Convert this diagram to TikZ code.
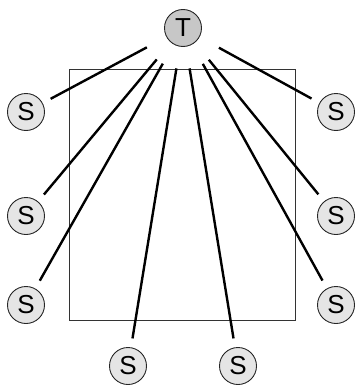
\documentclass[tikz,border=0pt]{standalone}
\usepackage{fontspec}
\setmainfont{Liberation Sans}
\begin{document}
\begin{tikzpicture}[x=1pt,y=-1pt,
  snode/.style={circle,draw=black!85,line width=0.9pt,fill=black!10,minimum size=37pt,inner sep=0pt,font=\fontsize{26}{26}\selectfont},
  tnode/.style={snode,fill=black!22},
  edge/.style={line width=2.4pt,shorten <=22pt,shorten >=9pt},
  frame/.style={draw=black!80,line width=0.8pt}]
\useasboundingbox (0,0) rectangle (355,388);
\draw[frame] (69,69) rectangle (295,320);
\node[tnode] (T) at (183,28) {T};
\node[snode] (S1) at (26,112) {S};
\node[snode] (S2) at (26,216) {S};
\node[snode] (S3) at (26,305) {S};
\node[snode] (S4) at (128,366) {S};
\node[snode] (S5) at (238,366) {S};
\node[snode] (S6) at (336,305) {S};
\node[snode] (S7) at (336,216) {S};
\node[snode] (S8) at (336,112) {S};
\foreach \s in {S1,S2,S3,S4,S5,S6,S7,S8}
  \draw[edge] (T) -- (\s);
\end{tikzpicture}
\end{document}
